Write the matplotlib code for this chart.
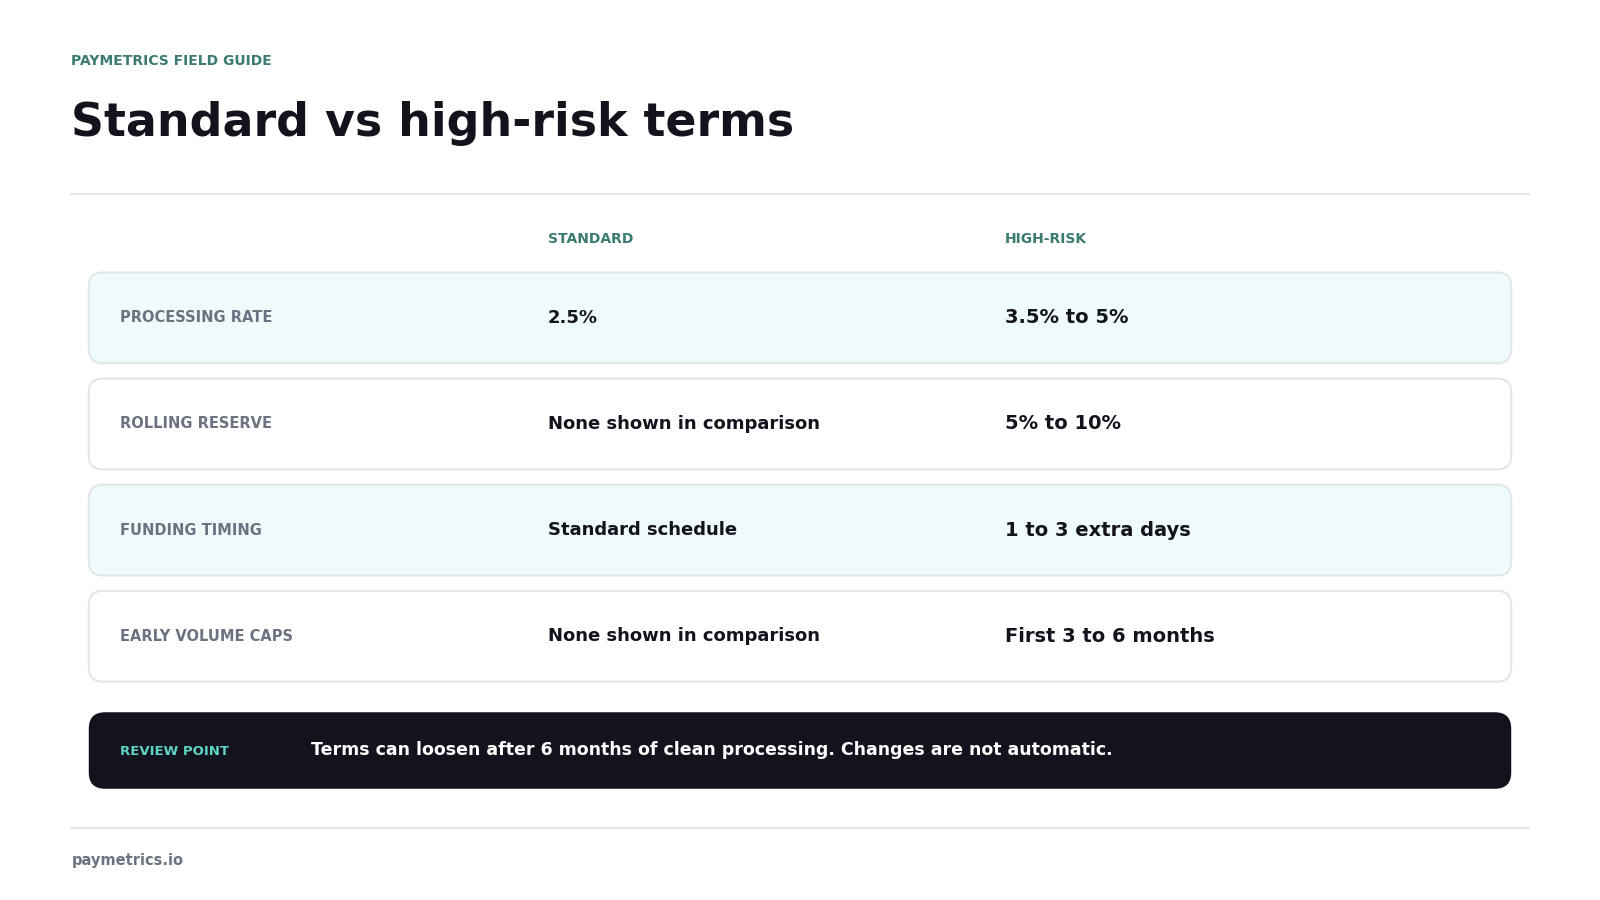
import matplotlib
matplotlib.use("Agg")
import matplotlib.pyplot as plt
from matplotlib.patches import FancyBboxPatch

kicker = "PAYMETRICS FIELD GUIDE"
title = "Standard vs high-risk terms"
col_headers = ["STANDARD", "HIGH-RISK"]
metrics = ["PROCESSING RATE", "ROLLING RESERVE", "FUNDING TIMING", "EARLY VOLUME CAPS"]
standard = ["2.5%", "None shown in comparison", "Standard schedule", "None shown in comparison"]
high_risk = ["3.5% to 5%", "5% to 10%", "1 to 3 extra days", "First 3 to 6 months"]
review_label = "REVIEW POINT"
review_text = "Terms can loosen after 6 months of clean processing. Changes are not automatic."
footer = "paymetrics.io"

W, H = 1568, 882
fig = plt.figure(figsize=(16, 9), dpi=100)
ax = fig.add_axes([0, 0, 1, 1])
ax.set_xlim(0, W); ax.set_ylim(H, 0); ax.axis("off")

TEAL = "#3b7b72"; DARK = "#13131d"; GRAY = "#6b7280"; BORDER = "#e3e6e9"
ff = "DejaVu Sans"

ax.text(70, 60, kicker, color=TEAL, fontsize=10, fontweight="bold", va="center", family=ff)
ax.text(70, 121, title, color=DARK, fontsize=33, fontweight="bold", va="center", family=ff)
ax.plot([70, 1498], [190, 190], color=BORDER, lw=1.5)

xs = [537, 985]
for x, h in zip(xs, col_headers):
    ax.text(x, 234, h, color=TEAL, fontsize=10, fontweight="bold", va="center", family=ff)

row_top, row_h, gap = 267, 89, 15
for i, (m, s, r) in enumerate(zip(metrics, standard, high_risk)):
    y0 = row_top + i * (row_h + gap)
    fc = "#effafa" if i % 2 == 0 else "white"
    ax.add_patch(FancyBboxPatch((87, y0), 1394, row_h, boxstyle="round,pad=0,rounding_size=14",
                                fc=fc, ec=BORDER, lw=1.5))
    cy = y0 + row_h / 2
    ax.text(118, cy, m, color=GRAY, fontsize=10.5, fontweight="bold", va="center", family=ff)
    ax.text(xs[0], cy, s, color=DARK, fontsize=13, fontweight="bold", va="center", family=ff)
    ax.text(xs[1], cy, r, color=DARK, fontsize=14, fontweight="bold", va="center", family=ff)

ax.add_patch(FancyBboxPatch((87, 698), 1394, 75, boxstyle="round,pad=0,rounding_size=16",
                            fc=DARK, ec="none"))
ax.text(118, 736, review_label, color="#5fd3c6", fontsize=9.5, fontweight="bold", va="center", family=ff)
ax.text(305, 735, review_text, color="white", fontsize=12.5, fontweight="bold", va="center", family=ff)

ax.plot([70, 1498], [811, 811], color=BORDER, lw=1.5)
ax.text(70, 843, footer, color=GRAY, fontsize=10.5, fontweight="bold", va="center", family=ff)

fig.savefig("out.png", dpi=100, facecolor="white")
